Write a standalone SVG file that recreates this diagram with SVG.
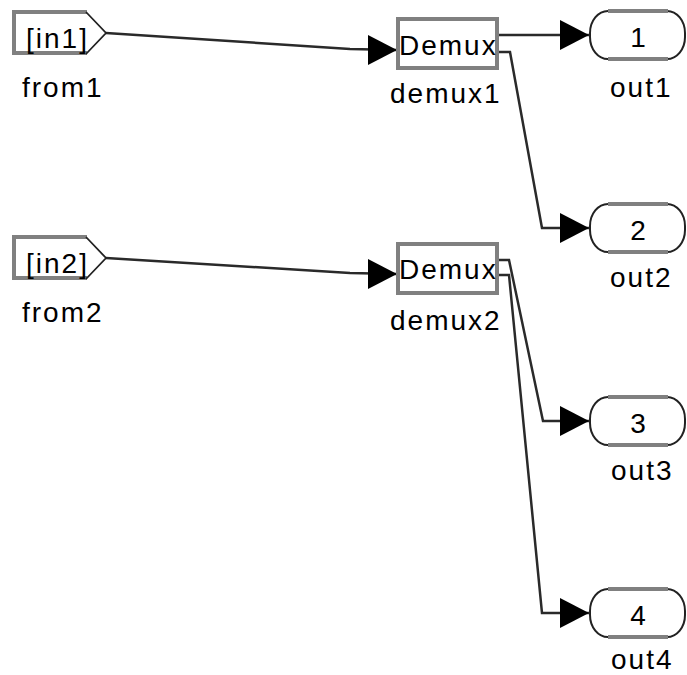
<svg xmlns="http://www.w3.org/2000/svg" width="687" height="675" viewBox="0 0 687 675">
<style>
  .lbl { font-family: "Liberation Sans", Arial, sans-serif; font-size: 28px; fill: #000; letter-spacing: 2px; }
  .in { font-family: "Liberation Sans", Arial, sans-serif; font-size: 28px; fill: #000; letter-spacing: 2px; }
  .num { font-family: "Liberation Sans", Arial, sans-serif; font-size: 28px; fill: #000; text-anchor: middle; }
  .gray { fill: #fff; stroke: #808080; stroke-width: 4; }
  .diag { fill: none; stroke: #222; stroke-width: 1.8; }
  .cap { fill: #fff; stroke: #222; stroke-width: 2; }
  .capflat { stroke: #808080; stroke-width: 4; }
  .wire { fill: none; stroke: #2a2a2a; stroke-width: 2.5; marker-end: url(#arr); }
</style>
<defs>
  <marker id="arr" markerUnits="userSpaceOnUse" markerWidth="30" markerHeight="30" refX="29" refY="15" orient="0">
    <path d="M0,0 L29,15 L0,30 z" fill="#000"/>
  </marker>
</defs>
<g id="connectors">
  <path class="wire" d="M106,33 L350,49 L397,50"/>
  <path class="wire" d="M497,35 L589,35"/>
  <path class="wire" d="M497,52 L510,52 L542,228 L589,228"/>
  <path class="wire" d="M106,258 L350,273 L397,274"/>
  <path class="wire" d="M497,260 L509,260 L543,421 L589,421"/>
  <path class="wire" d="M497,275 L509,275 L542,613 L589,613"/>
</g>
<g id="from1">
  <path class="gray" d="M87,12 L14,12 L14,53 L87,53"/>
  <path class="diag" d="M86,12 L106,33 L86,54"/>
  <text class="in" x="26" y="48">[in1]</text>
  <text class="lbl" x="22" y="97">from1</text>
</g>
<g id="from2">
  <path class="gray" d="M87,237 L14,237 L14,278 L87,278"/>
  <path class="diag" d="M86,237 L106,258 L86,279"/>
  <text class="in" x="26" y="273">[in2]</text>
  <text class="lbl" x="22" y="322">from2</text>
</g>
<g id="demux1">
  <rect class="gray" x="398" y="19" width="99" height="49"/>
  <text class="in" x="399" y="55">Demux</text>
  <text class="lbl" x="390" y="103">demux1</text>
</g>
<g id="demux2">
  <rect class="gray" x="398" y="244" width="99" height="49"/>
  <text class="in" x="399" y="279">Demux</text>
  <text class="lbl" x="390" y="330">demux2</text>
</g>
<g id="out1">
  <rect class="cap" x="590" y="11" width="95" height="48" rx="18" ry="22"/>
  <path class="capflat" d="M608,11 L668,11 M608,59 L668,59"/>
  <text class="num" x="638" y="47">1</text>
  <text class="lbl" x="610" y="97">out1</text>
</g>
<g id="out2">
  <rect class="cap" x="590" y="204" width="95" height="48" rx="18" ry="22"/>
  <path class="capflat" d="M608,204 L668,204 M608,252 L668,252"/>
  <text class="num" x="638" y="240">2</text>
  <text class="lbl" x="610" y="287">out2</text>
</g>
<g id="out3">
  <rect class="cap" x="590" y="397" width="95" height="48" rx="18" ry="22"/>
  <path class="capflat" d="M608,397 L668,397 M608,445 L668,445"/>
  <text class="num" x="638" y="433">3</text>
  <text class="lbl" x="611" y="480">out3</text>
</g>
<g id="out4">
  <rect class="cap" x="590" y="589" width="95" height="48" rx="18" ry="22"/>
  <path class="capflat" d="M608,589 L668,589 M608,637 L668,637"/>
  <text class="num" x="638" y="625">4</text>
  <text class="lbl" x="611" y="669">out4</text>
</g>
</svg>
